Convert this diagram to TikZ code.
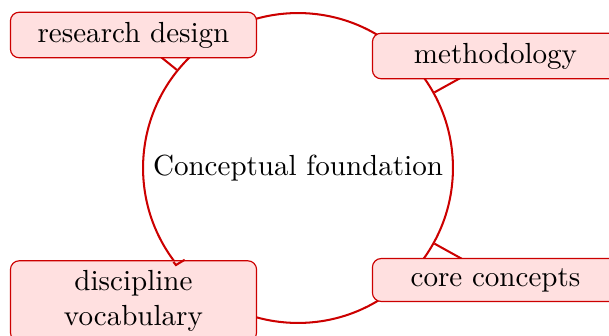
\documentclass[tikz,border=0pt]{standalone}
\usetikzlibrary{calc}
\tikzset{every picture/.style={line width=0.7pt}}
\begin{document}
\begin{tikzpicture}[x=0.344pt,y=0.344pt,yscale=-1,xscale=1,
  hub/.style={circle,draw=red!80!black,minimum size=106.6pt,inner sep=0pt},
  topic/.style={draw=red!80!black,line width=0.4pt,fill=red!12,rounded corners=3pt,text width=78pt,align=center},
  tick/.style={draw=red!80!black}]
\useasboundingbox (0,0) rectangle (609,336);

%Circle
\node[hub] (found) at (298,168) {Conceptual foundation};

%Ticks under the boxes
\draw[tick] (found.141.5) -- ($(found.center)!1.2!(found.141.5)$);
\draw[tick] (found.29.5) -- ($(found.center)!1.2!(found.29.5)$);
\draw[tick] (found.-29.3) -- ($(found.center)!1.2!(found.-29.3)$);

%Boxes
\node[topic] (design) at (133.5,35) {research design};
\node[topic] (method) at (495.5,56) {methodology};
\node[topic] (core) at (495.5,280) {core concepts};
\node[topic] (vocab) at (133.5,301) {discipline vocabulary};

%Tick over the last box
\draw[tick] (found.-143) arc[start angle=143,end angle=141.5,radius=155] -- ($(found.center)!0.935!(found.-141.5)$);

\end{tikzpicture}
\end{document}
